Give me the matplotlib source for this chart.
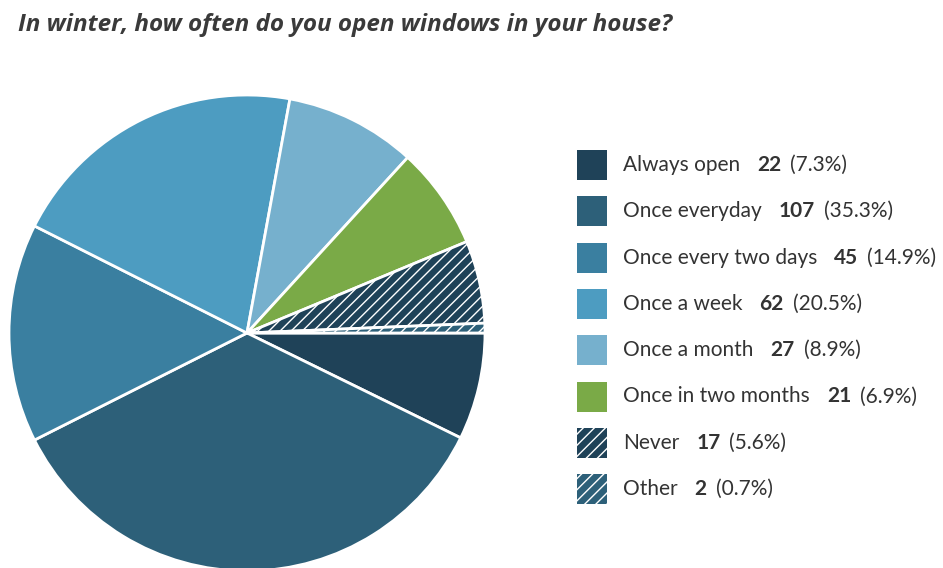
import matplotlib

matplotlib.use("Agg")
import matplotlib.pyplot as plt
from matplotlib.patches import Rectangle

# survey answers, clockwise from 3 o'clock
labels = [
    "Always open",
    "Once everyday",
    "Once every two days",
    "Once a week",
    "Once a month",
    "Once in two months",
    "Never",
    "Other",
]
counts = [22, 107, 45, 62, 27, 21, 17, 2]
percents = ["7.3%", "35.3%", "14.9%", "20.5%", "8.9%", "6.9%", "5.6%", "0.7%"]
colors = ["#1f4258", "#2d6079", "#3a7fa0", "#4d9cc1", "#76b0cd", "#7aaa47", "#1f4258", "#2d6079"]
hatches = [None, None, None, None, None, None, "///", "///"]

TITLE = "In winter, how often do you open windows in your house?"
TEXT = "#333333"

plt.rcParams["hatch.linewidth"] = 1.0

W, H = 943, 568
fig = plt.figure(figsize=(W / 100, H / 100), dpi=100)

# pie axes, centre at (247, 333) px, radius 238 px
cx, cy, r = 247, 333, 238
ax = fig.add_axes([(cx - r) / W, (H - cy - r) / H, 2 * r / W, 2 * r / H])
wedges, _ = ax.pie(
    counts,
    colors=colors,
    startangle=0,
    counterclock=False,
    radius=1.0,
    wedgeprops=dict(edgecolor="white", linewidth=2),
)
for w, h in zip(wedges, hatches):
    if h:
        w.set_hatch(h)
ax.set_xlim(-1, 1)
ax.set_ylim(-1, 1)
ax.set_axis_off()

fig.text(18 / W, 1 - 25 / H, TITLE, fontsize=17.5, fontweight="bold", fontstyle="italic",
         family="Open Sans", color="#3a3a3a", va="center", ha="left")

# legend drawn by hand: square, label, bold count, percentage
fig.canvas.draw()
renderer = fig.canvas.get_renderer()
x_box, box, y0, step = 577, 30, 150, 46.3
for i, (lab, n, pct) in enumerate(zip(labels, counts, percents)):
    top = y0 + i * step
    sq = Rectangle((x_box / W, 1 - (top + box) / H), box / W, box / H,
                   transform=fig.transFigure, facecolor=colors[i],
                   edgecolor="white" if hatches[i] else "none",
                   linewidth=0, hatch=hatches[i])
    fig.add_artist(sq)
    ymid = 1 - (top + box / 2) / H
    x = 623
    for s, wt, gap in ((lab, "normal", 17), (str(n), "bold", 9), (f"({pct})", "normal", 0)):
        t = fig.text(x / W, ymid, s, fontsize=15, fontweight=wt, family="Lato",
                     color=TEXT, va="center", ha="left")
        x += t.get_window_extent(renderer).width + gap

fig.savefig("out.png", dpi=100)
